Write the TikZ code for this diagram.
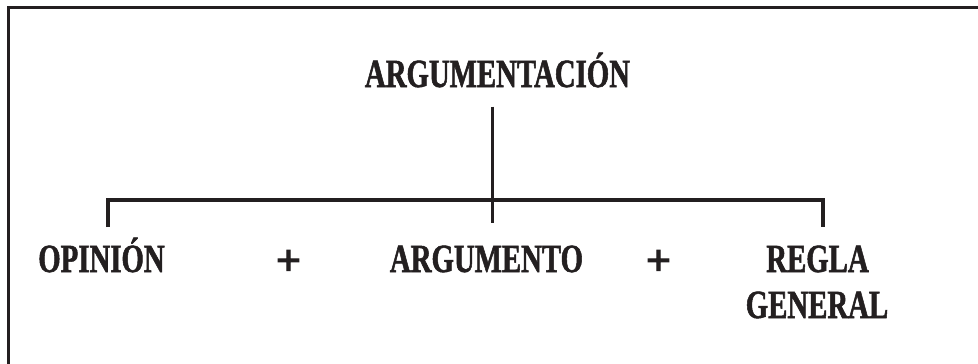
\documentclass[tikz,border=0pt]{standalone}
\usepackage{fontspec}
\newfontfamily\condfont[FakeStretch=0.72,FakeBold=1.3]{Liberation Serif}
\newfontfamily\plusfont[FakeBold=2.5]{Liberation Serif}
\definecolor{ink}{HTML}{231F20}
\tikzset{
  lbl/.style={anchor=base, inner sep=0pt, text=ink, font=\condfont\bfseries\fontsize{40}{46}\selectfont},
  plussign/.style={anchor=base, inner sep=0pt, text=ink, font=\plusfont\bfseries\fontsize{44}{48}\selectfont},
  conn/.style={draw=ink, line width=4pt},
  frame/.style={draw=ink, line width=3pt}
}
\begin{document}
\begin{tikzpicture}[x=1pt,y=-1pt]
\useasboundingbox (0,0) rectangle (978,364);
\fill[white] (0,0) rectangle (978,364);
% frame (only top and left sides visible)
\draw[frame] (978,7.5) -- (8.5,7.5) -- (8.5,364);
% texts
\node[lbl] (title) at (497.5,87) {ARGUMENTACIÓN};
\node[lbl] (opinion) at (101.5,272) {OPINIÓN};
\node[plussign] (plus1) at (288.5,275) {+};
\node[lbl] (argumento) at (486.5,272) {ARGUMENTO};
\node[plussign] (plus2) at (658.5,275) {+};
\node[lbl] (regla) at (817.5,272) {REGLA};
\node[lbl] (general) at (817,318) {GENERAL};
% connector coordinates
\coordinate (ctop) at (492.5,106.5);
\coordinate (cbot) at (492.5,222.5);
\coordinate (lb) at (108,227);
\coordinate (rb) at (823,227);
\coordinate (hl) at (108,199.5);
\coordinate (hr) at (823,199.5);
\draw[conn, line width=3.5pt] (ctop) -- (cbot);
\draw[conn] (lb) -- (hl) -- (hr) -- (rb);
\end{tikzpicture}
\end{document}
